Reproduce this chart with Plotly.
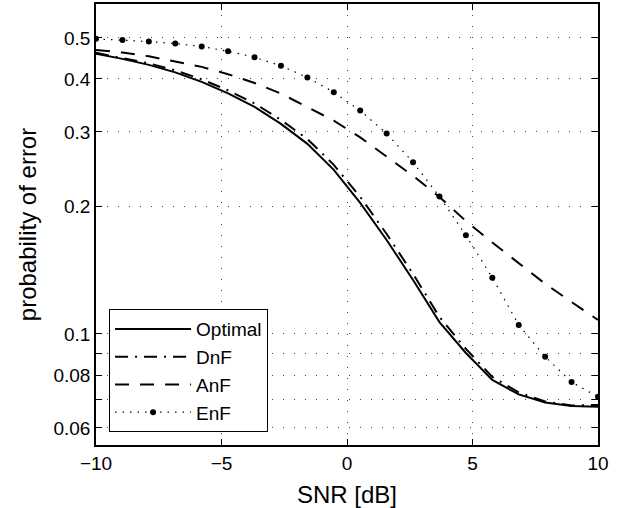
import numpy as np
import plotly.graph_objects as go

# SNR grid (20 points, -10 .. 10 dB)
snr_db = np.linspace(-10, 10, 20)

optimal = [0.4584, 0.4460, 0.4317, 0.4144, 0.3936, 0.3698, 0.3436, 0.3133, 0.2810, 0.2440,
           0.2039, 0.1667, 0.1341, 0.1067, 0.0902, 0.0779, 0.0720, 0.0689, 0.0676, 0.0673]
dnf = [0.4609, 0.4485, 0.4353, 0.4191, 0.3991, 0.3758, 0.3502, 0.3201, 0.2886, 0.2507,
       0.2106, 0.1722, 0.1386, 0.1097, 0.0922, 0.0792, 0.0728, 0.0693, 0.0678, 0.0680]
anf = [0.4684, 0.4616, 0.4522, 0.4400, 0.4270, 0.4104, 0.3913, 0.3693, 0.3436, 0.3189,
       0.2911, 0.2625, 0.2362, 0.2106, 0.1848, 0.1644, 0.1467, 0.1314, 0.1190, 0.1079]
enf = [0.4973, 0.4945, 0.4900, 0.4847, 0.4769, 0.4650, 0.4502, 0.4294, 0.4031, 0.3721,
       0.3367, 0.2972, 0.2543, 0.2110, 0.1710, 0.1358, 0.1050, 0.0884, 0.0770, 0.0711]

x_ticks = [-10, -5, 0, 5, 10]
y_ticks = [0.06, 0.07, 0.08, 0.09, 0.1, 0.2, 0.3, 0.4, 0.5]
y_labels = ["0.06", "", "0.08", "", "0.1", "0.2", "0.3", "0.4", "0.5"]

font = "Liberation Sans, Arial, Helvetica, sans-serif"

fig = go.Figure()
fig.add_trace(go.Scatter(x=snr_db, y=optimal, name="Optimal", mode="lines",
                         line=dict(color="black", width=2)))
fig.add_trace(go.Scatter(x=snr_db, y=dnf, name="DnF", mode="lines",
                         line=dict(color="black", width=2, dash="13px,7px,2px,7px")))
fig.add_trace(go.Scatter(x=snr_db, y=anf, name="AnF", mode="lines",
                         line=dict(color="black", width=2, dash="14px,11px")))
fig.add_trace(go.Scatter(x=snr_db, y=enf, name="EnF", mode="lines+markers",
                         line=dict(color="black", width=1.2, dash="1.5px,6px"),
                         marker=dict(color="black", size=6)))

axis_common = dict(
    showline=True, linecolor="black", linewidth=1.5, mirror="ticks",
    ticks="inside", ticklen=6, tickcolor="black", tickwidth=1,
    showgrid=True, gridcolor="#444", gridwidth=1, griddash="1px,10px",
    zeroline=False, automargin=False,
    tickfont=dict(size=19, color="black", family=font),
)

fig.update_xaxes(range=[-10, 10], tickvals=x_ticks,
                 title=dict(text="SNR [dB]", font=dict(size=24, color="black", family=font), standoff=14),
                 **axis_common)
fig.update_yaxes(type="log", range=[np.log10(0.0547), np.log10(0.601)],
                 tickvals=y_ticks, ticktext=y_labels,
                 title=dict(text="probability of error", font=dict(size=24, color="black", family=font), standoff=10),
                 **axis_common)

fig.update_layout(
    width=621, height=508,
    margin=dict(l=96, r=23, t=4, b=63),
    paper_bgcolor="white", plot_bgcolor="white",
    font=dict(family=font, color="black"),
    legend=dict(x=0.026, y=0.029, xanchor="left", yanchor="bottom",
                bgcolor="white", bordercolor="black", borderwidth=1,
                font=dict(size=19, color="black", family=font),
                itemwidth=76, tracegroupgap=0),
)

fig.write_html("out.html", config={"displayModeBar": False})

# drop the browser's default page margin so the figure sits at (0, 0)
with open("out.html", encoding="utf-8") as f:
    page = f.read()
page = page.replace("<head>", "<head><style>body{margin:0;}</style>", 1)
with open("out.html", "w", encoding="utf-8") as f:
    f.write(page)
